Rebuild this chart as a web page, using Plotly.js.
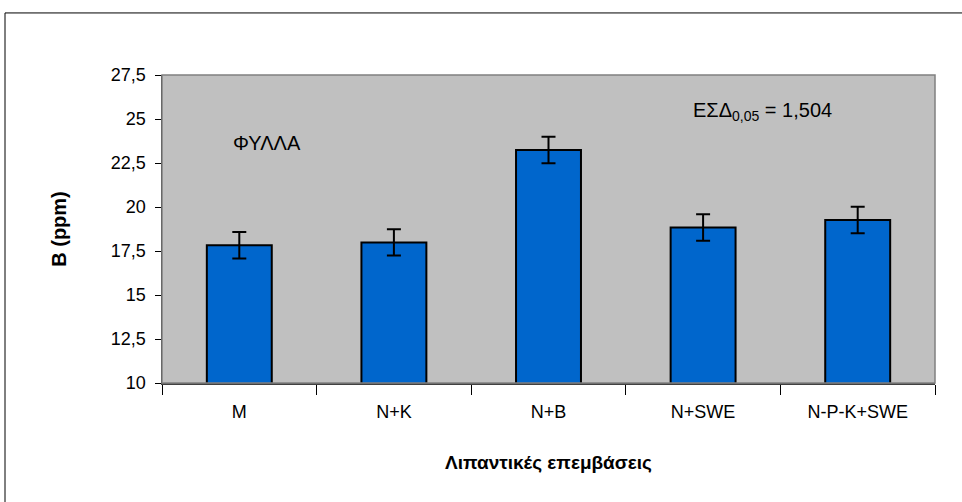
<!DOCTYPE html>
<html>
<head>
<meta charset="utf-8">
<script src="https://cdn.plot.ly/plotly-3.0.1.min.js"></script>
<style>
html,body{margin:0;padding:0;background:#fff;}
#chart{width:962px;height:502px;}
</style>
</head>
<body>
<div id="chart"></div>
<script>
const categories = ["M", "N+K", "N+B", "N+SWE", "N-P-K+SWE"];
const boronPpm = [17.83, 17.99, 23.24, 18.83, 19.26];
const errorPpm = [0.752, 0.752, 0.752, 0.752, 0.752];
const yTickVals = [10, 12.5, 15, 17.5, 20, 22.5, 25, 27.5];
const yTickText = ["10", "12,5", "15", "17,5", "20", "22,5", "25", "27,5"];

const FONT = "Liberation Sans, Arial, sans-serif";

const trace = {
  type: "bar",
  x: categories,
  y: boronPpm,
  width: 0.42,
  marker: {color: "#0066CC", line: {color: "#000000", width: 2}},
  error_y: {type: "data", array: errorPpm, visible: true, color: "#000000", thickness: 2, width: 7},
  hoverinfo: "x+y"
};

const layout = {
  width: 962, height: 502,
  margin: {l: 162, r: 27, t: 75, b: 118.5},
  paper_bgcolor: "#ffffff",
  plot_bgcolor: "#C0C0C0",
  showlegend: false,
  separators: ", ",
  font: {family: FONT, size: 18, color: "#000"},
  xaxis: {
    type: "category",
    showline: true, linecolor: "#404040", linewidth: 1.5,
    ticks: "outside", tickson: "boundaries", ticklen: 10, tickcolor: "#000", tickwidth: 1,
    ticklabelstandoff: 12,
    tickfont: {family: FONT, size: 18, color: "#000"},
    showgrid: false, zeroline: false,
    title: {text: "<b>Λιπαντικές επεμβάσεις</b>", font: {family: FONT, size: 19, color: "#000"}, standoff: 34}
  },
  yaxis: {
    range: [10, 27.5],
    tickvals: yTickVals, ticktext: yTickText,
    showline: true, linecolor: "#202020", linewidth: 1.5,
    ticks: "outside", ticklen: 6, tickcolor: "#000", tickwidth: 1,
    ticklabelstandoff: 5,
    tickfont: {family: FONT, size: 18, color: "#000"},
    showgrid: false, zeroline: false,
    title: {text: "<b>B (ppm)</b>", font: {family: FONT, size: 20, color: "#000"}, standoff: 39}
  },
  shapes: [
    {type: "rect", xref: "paper", yref: "paper", x0: 0, x1: 1, y0: 0, y1: 1,
     line: {color: "#808080", width: 1.5}, fillcolor: "rgba(0,0,0,0)", layer: "above"},
    {type: "rect", xref: "paper", yref: "paper", x0: -0.2031, x1: 1.06, y0: -0.5, y1: 1.2015,
     line: {color: "#000000", width: 1}, fillcolor: "rgba(0,0,0,0)"}
  ],
  annotations: [
    {text: "ΦΥΛΛΑ", xref: "paper", yref: "paper", x: 0.136, y: 0.78, xanchor: "center", yanchor: "middle",
     showarrow: false, font: {family: FONT, size: 20, color: "#000"}},
    {text: "ΕΣΔ<sub>0,05</sub> = 1,504", xref: "paper", yref: "paper", x: 0.684, y: 0.88, xanchor: "left", yanchor: "middle",
     showarrow: false, font: {family: FONT, size: 20, color: "#000"}}
  ]
};

Plotly.newPlot("chart", [trace], layout, {displayModeBar: false, staticPlot: true});
</script>
</body>
</html>
